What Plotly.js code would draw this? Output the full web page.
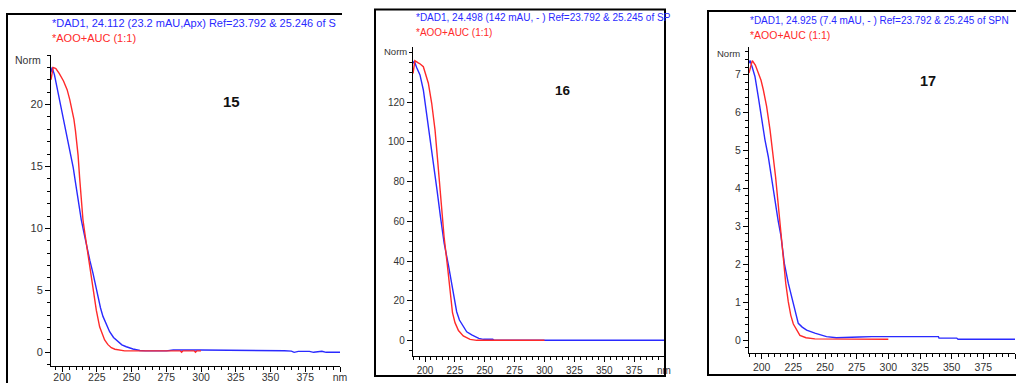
<!DOCTYPE html>
<html><head><meta charset="utf-8">
<script src="https://cdn.plot.ly/plotly-3.0.1.min.js"></script>
<style>html,body{margin:0;padding:0;background:#fff;overflow:hidden}#chart{width:1016px;height:383px}</style>
</head><body><div id="chart"></div>
<script>
// ---------- data ----------
const xTickVals = [200,225,250,275,300,325,350,375,400];
const xTickText = ['200','225','250','275','300','325','350','375','nm'];

// Panel 15
const wl15Blue  = [192,192.8,194.5,196.5,198,200,202,203.6,205,206.5,208,209.5,211.4,213.8,215.8,217.8,220,222.2,224,225.8,227.6,229.4,231.8,234.2,237,240.1,243,246.2,251,256,260,275,280,300,325,337,345,360,365,367,370,378,381,385,387,390,400];
const abs15Blue = [22.6,23.0,22.4,21.3,20.5,19.3,18.1,17.4,16.7,15.9,14.9,13.8,12.3,10.7,9.6,8.5,7.4,6.4,5.4,4.5,3.6,2.9,2.2,1.66,1.2,0.85,0.6,0.45,0.27,0.15,0.12,0.12,0.19,0.19,0.19,0.19,0.13,0.13,0.1,0.0,0.08,0.08,0.0,0.03,0.08,0.0,0.0];
const wl15Red   = [192,193.5,195.5,198,201,203.6,205.5,207.2,208.5,209.6,210.6,211.5,212.6,213.8,215,216.5,217.8,219.8,222.2,224.6,227,228.8,230.6,233,235.4,238,241.4,245,270,285,286,287,295,296,297,300];
const abs15Red  = [22.0,23.0,22.9,22.5,21.9,21.2,20.4,19.5,18.8,17.9,17.0,15.9,14.1,12.3,10.7,9.5,8.5,6.9,5.0,3.4,2.06,1.45,1.0,0.62,0.37,0.25,0.19,0.12,0.12,0.12,0.0,0.12,0.12,0.0,0.12,0.12];

// Panel 16
const wl16Blue  = [190,191,193,195.8,198.6,201.4,204.2,206.1,208,210,213,216,219.6,222,224.6,226.5,228.8,232,234.9,239.1,241.9,245,248.8,256.7,258,300,400];
const abs16Blue = [139.6,140.8,137.5,133.8,126.2,114.5,102.7,92.6,85,76,62,49,38,29,20.4,14.5,10.3,7,4.4,2.8,1.9,1.1,0.6,0.6,0.1,0.1,0.1];
const wl16Red   = [190,191.5,194,196,198.6,200.5,202.8,205.6,208.4,210.3,212,214,216,218.7,221.5,223,225.1,228,232,235,237.7,243.3,250,300];
const abs16Red  = [134.6,141,140,139.3,137.9,134.5,129.6,119.5,106,92.6,80,66,52,38,20,14,9,5,2.3,1.2,0.6,0.1,0.1,0.1];

// Panel 17
const wl17Blue  = [190,190.8,192.5,194.7,197.3,200,202.6,205.2,208,211,213,215.2,217.9,221,224.5,226.5,228.9,232,235.5,242,251.2,259,275,277,287,339.5,340,354,355,400];
const abs17Blue = [7.30,7.37,7.2,6.95,6.42,5.80,5.28,4.84,4.2,3.55,3.15,2.75,2.02,1.5,1.0,0.7,0.44,0.34,0.26,0.18,0.09,0.06,0.06,0.08,0.09,0.09,0.05,0.05,0.02,0.02];
const wl17Red   = [190,192.6,195,197.3,199.5,201.3,203.9,206.6,209.2,211,213,215,217,219,221,223,225,227.6,230.2,235,242,300];
const abs17Red  = [7.04,7.37,7.25,7.04,6.85,6.60,6.16,5.54,4.84,4.3,3.6,2.9,2.1,1.5,1.01,0.65,0.42,0.26,0.12,0.06,0.03,0.02];

const blueTitles = [
  '*DAD1, 24.112 (23.2 mAU,Apx) Ref=23.792 & 25.246 of S',
  '*DAD1, 24.498 (142 mAU, - ) Ref=23.792 & 25.245 of SP',
  '*DAD1, 24.925 (7.4 mAU, - ) Ref=23.792 & 25.245 of SPN'
];
const redTitle = '*AOO+AUC (1:1)';
const panelLabels = ['15','16','17'];
const yTicks15 = [0,5,10,15,20];
const yTicks16 = [0,20,40,60,80,100,120];
const yTicks17 = [0,1,2,3,4,5,6,7];

// ---------- layout helpers ----------
const W = 1016, H = 383;
const px = v => v / W;
const py = v => 1 - v / H;
const BLUE = '#2a2aff', RED = '#ff2a2a', TXT = '#333';
const FONT = '"Liberation Sans", Arial, sans-serif';

function tr(x, y, color, xa, ya) {
  return {x, y, type:'scatter', mode:'lines', line:{color, width:1.4}, xaxis:xa, yaxis:ya, hoverinfo:'skip', showlegend:false};
}
const data = [
  tr(wl15Blue, abs15Blue, BLUE, 'x', 'y'),
  tr(wl15Red, abs15Red, RED, 'x', 'y'),
  tr(wl16Blue, abs16Blue, BLUE, 'x2', 'y2'),
  tr(wl16Red, abs16Red, RED, 'x2', 'y2'),
  tr(wl17Blue, abs17Blue, BLUE, 'x3', 'y3'),
  tr(wl17Red, abs17Red, RED, 'x3', 'y3')
];

function xax(d0, d1, r0, anchor, fs, standoff) {
  return {domain:[px(d0), px(d1)], range:[r0, 400], anchor, showline:true, linecolor:'#000', linewidth:1,
    ticks:'outside', ticklen:5, tickcolor:'#000', tickwidth:1, tickmode:'array', tickvals:xTickVals, ticktext:xTickText,
    ticklabelstandoff: standoff || 0,
    showgrid:false, zeroline:false, tickfont:{family:FONT, size:fs, color:TXT},
    minor:{tickmode:'linear', tick0:190, dtick:5, ticks:'outside', ticklen:3, tickcolor:'#000', showgrid:false}};
}
function yax(top, bot, range, anchor, vals, mdt, fs) {
  return {domain:[py(bot), py(top)], range, anchor, showline:true, linecolor:'#000', linewidth:1,
    ticks:'outside', ticklen:5, tickcolor:'#000', tickwidth:1, tickmode:'array', tickvals:vals,
    showgrid:false, zeroline:false, tickfont:{family:FONT, size:fs, color:TXT},
    minor:{tickmode:'linear', tick0:0, dtick:mdt, ticks:'outside', ticklen:3, tickcolor:'#000', showgrid:false}};
}

function ann(text, x, y, size, color, bold, anchor) {
  return {text: bold ? '<b>'+text+'</b>' : text, xref:'paper', yref:'paper', x:px(x), y:py(y),
    xanchor:anchor||'left', yanchor:'middle', showarrow:false, font:{family:FONT, size, color}};
}
function ln(x0, y0, x1, y1) {
  return {type:'line', xref:'paper', yref:'paper', x0:px(x0), y0:py(y0), x1:px(x1), y1:py(y1), line:{color:'#000', width:2}};
}

const layout = {
  width:W, height:H, margin:{l:0, r:0, t:0, b:0}, paper_bgcolor:'#fff', plot_bgcolor:'rgba(0,0,0,0)',
  showlegend:false,
  xaxis:  xax(51, 340, 192, 'y', 10.5, -3),
  yaxis:  yax(55, 365.7, [-1.08, 24.0], 'x', yTicks15, 1, 11),
  xaxis2: xax(412.7, 664, 189.7, 'y2', 10),
  yaxis2: yax(46.7, 356, [-7.8, 148], 'x2', yTicks16, 5, 10),
  xaxis3: xax(749, 1015, 190, 'y3', 10.5),
  yaxis3: yax(47.3, 352.7, [-0.335, 7.72], 'x3', yTicks17, 0.2, 10.5),
  annotations: [
    ann(blueTitles[0], 50, 23, 11, BLUE),
    ann(redTitle, 50, 38, 11, RED),
    ann('Norm', 13, 59.5, 10.5, TXT),
    ann(panelLabels[0], 231.5, 101, 15, '#111', true, 'center'),
    ann(blueTitles[1], 414, 17, 10, BLUE),
    ann(redTitle, 414, 33, 10, RED),
    ann('Norm', 382, 51.7, 9.5, TXT),
    ann(panelLabels[1], 562.5, 90, 13.5, '#111', true, 'center'),
    ann(blueTitles[2], 748, 20.5, 10, BLUE),
    ann(redTitle, 748, 35, 10.5, RED),
    ann('Norm', 715, 53.5, 9.5, TXT),
    ann(panelLabels[2], 928, 80.5, 14.5, '#111', true, 'center')
  ],
  shapes: [
    // panel 15 frame: left + top (cropped at right and bottom)
    ln(7, 13, 7, 395), ln(6, 14, 342, 14),
    // panel 16 frame
    {type:'rect', xref:'paper', yref:'paper', x0:px(375), x1:px(665), y0:py(376), y1:py(9.5), line:{color:'#000', width:2}},
    // panel 17 frame: left, top, bottom (cropped at right)
    ln(708, 10, 708, 376), ln(707, 11, 1016, 11), ln(707, 375, 1016, 375)
  ]
};

Plotly.newPlot('chart', data, layout, {staticPlot:true, displayModeBar:false});
</script></body></html>
